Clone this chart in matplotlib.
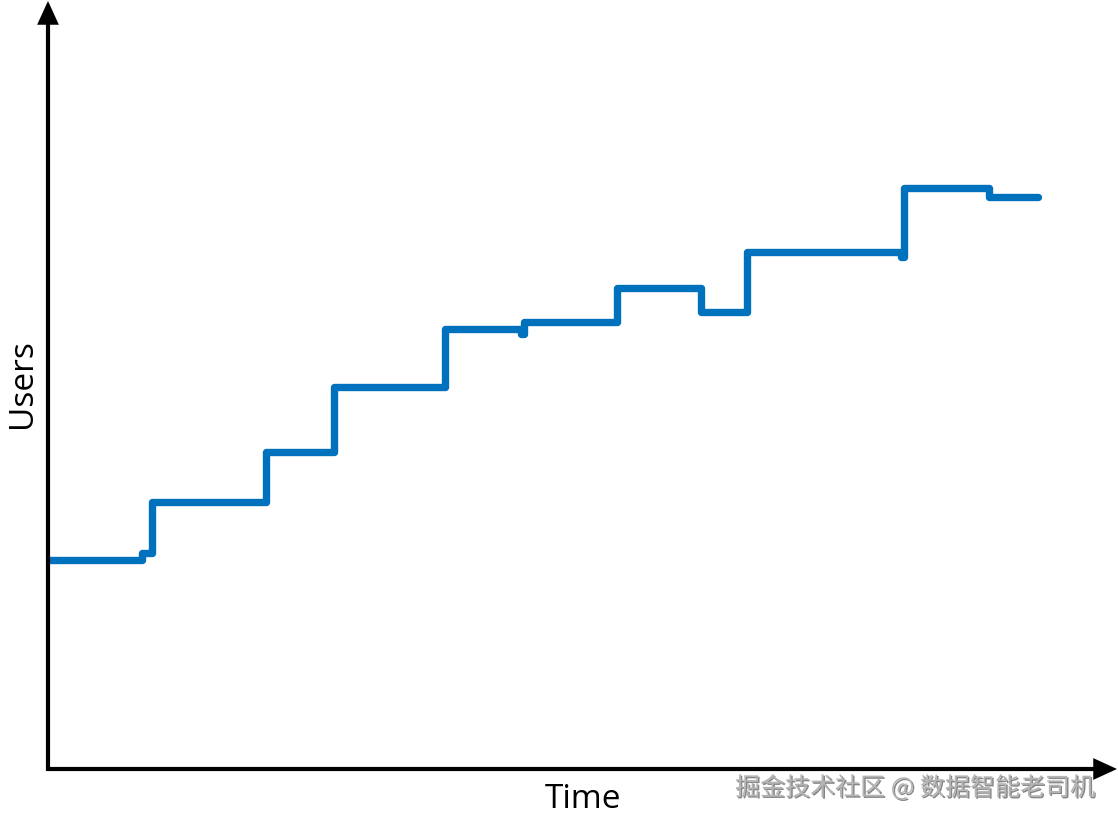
import matplotlib
matplotlib.use("Agg")
import matplotlib.pyplot as plt
import matplotlib.patheffects as pe

# Step data (time units, user counts)
times = [0, 94, 104, 218, 286, 397, 473, 476, 569, 653, 699, 853, 856, 941, 990]
users = [210, 217, 268, 318, 383, 441, 436, 448, 482, 458, 518, 513, 582, 573, 573]
x_label = "Time"
y_label = "Users"
watermark = "掘金技术社区 @ 数据智能老司机"

W, H = 1118, 825
fig = plt.figure(figsize=(W / 100, H / 100), dpi=100)
left, right, bottom, top = 48, 1110, 770, 5
ax = fig.add_axes([left / W, 1 - bottom / H, (right - left) / W, (bottom - top) / H])
ax.set_xlim(0, right - left)
ax.set_ylim(0, bottom - top)
ax.axis("off")

ax.step(times, users, where="post", color="#0071BC", lw=5.3,
        solid_joinstyle="round", solid_capstyle="round", zorder=3)

# axes arrows
arrow_kw = dict(arrowstyle="-|>,head_length=1.2,head_width=0.55", color="black", lw=3.0,
                shrinkA=0, shrinkB=0, joinstyle="miter", capstyle="butt")
ax.annotate("", xy=(48 / W, 1 - 1 / H), xytext=(48 / W, 1 - 771 / H),
            xycoords="figure fraction", textcoords="figure fraction",
            arrowprops=arrow_kw, annotation_clip=False)
ax.annotate("", xy=(1117 / W, 1 - 769 / H), xytext=(46 / W, 1 - 769 / H),
            xycoords="figure fraction", textcoords="figure fraction",
            arrowprops=arrow_kw, annotation_clip=False)

fam = ["Open Sans", "DejaVu Sans"]
fig.text(583 / W, 1 - 800 / H, x_label, ha="center", va="center", fontsize=24, family=fam)
fig.text(22 / W, 1 - 384 / H, y_label, ha="center", va="center", fontsize=24,
         rotation=90, family=fam)

fig.text(915 / W, 1 - 788 / H, watermark, ha="center", va="center", fontsize=18,
         color="#b4b4b4", family=["Noto Sans CJK SC", "DejaVu Sans"],
         path_effects=[pe.withSimplePatchShadow(offset=(1, -1), shadow_rgbFace="#555555", alpha=0.7)])

fig.savefig("out.png", dpi=100)
